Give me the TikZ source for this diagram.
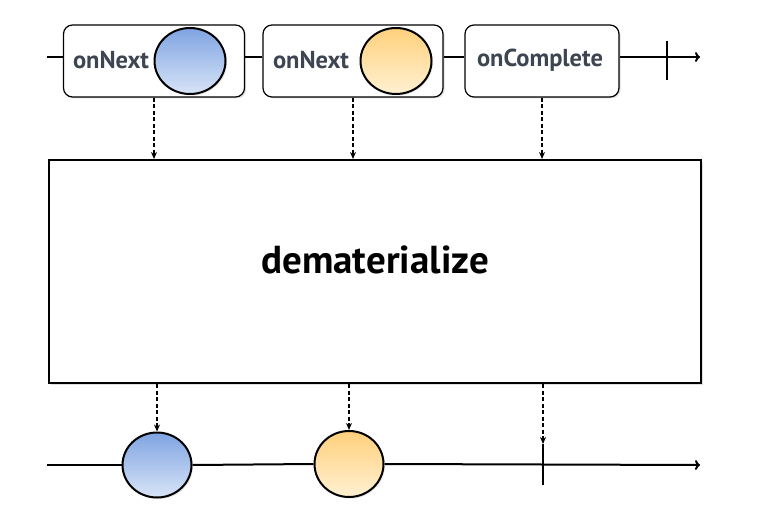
\documentclass[tikz,border=0pt]{standalone}
\usepackage{fontspec}
\setmainfont{PT Sans}
\usetikzlibrary{shapes.geometric,arrows.meta,shadows}
\definecolor{txt}{HTML}{3D4452}
\definecolor{bluetop}{HTML}{7FA4E2}
\definecolor{bluebot}{HTML}{D8E4F7}
\definecolor{orgtop}{HTML}{FFD07C}
\definecolor{orgbot}{HTML}{FFF1D2}
\tikzset{
  evbox/.style={draw=black, line width=1.2pt, rounded corners=9pt, fill=white,
    minimum height=72pt, inner sep=0pt,
    drop shadow={shadow xshift=1.5pt, shadow yshift=-1.5pt, opacity=0.25}},
  evtext/.style={text=txt, font=\bfseries\fontsize{24.5}{27}\selectfont, inner sep=0pt},
  marble/.style={draw=black, line width=2pt, ellipse, inner sep=0pt,
    drop shadow={shadow xshift=1.5pt, shadow yshift=-1.5pt, opacity=0.2}},
  bluem/.style={marble, top color=bluetop, bottom color=bluebot},
  orgm/.style={marble, top color=orgtop, bottom color=orgbot},
  tline/.style={line width=2pt, draw=black},
  dasharr/.style={dashed, dash pattern=on 4pt off 2.5pt, line width=1.5pt, -{Stealth[length=7pt,width=6pt]}},
  opbox/.style={draw=black, line width=2pt, fill=white, inner sep=0pt,
    drop shadow={shadow xshift=2pt, shadow yshift=-2pt, opacity=0.25}},
}
\begin{document}
\begin{tikzpicture}[x=1pt,y=-1pt]
\useasboundingbox (0,0) rectangle (762,518);
% top timeline
\coordinate (L0) at (47,57);
\coordinate (Lend) at (700,57);
\coordinate (tkA) at (667,41);
\coordinate (tkB) at (667,80);
\node[evbox, minimum width=181pt] (b1) at (154,61) {};
\node[evbox, minimum width=180pt] (b2) at (353,61) {};
\node[evbox, minimum width=154pt] (b3) at (542,61) {};
\node[evtext] (t1) at (111,60) {onNext};
\node[evtext] (t2) at (311,60) {onNext};
\node[evtext] (t3) at (540,60) {onComplete};
\node[bluem, minimum width=71pt, minimum height=66pt] (c1) at (190,61) {};
\node[orgm, minimum width=71pt, minimum height=66pt] (c2) at (396,61) {};
\draw[tline] (L0) -- (b1.west |- L0);
\draw[tline] (b1.east |- L0) -- (b2.west |- L0);
\draw[tline] (b2.east |- L0) -- (b3.west |- L0);
\draw[tline, -{To[length=5pt,width=10pt]}] (b3.east |- L0) -- (Lend);
\draw[tline] (tkA) -- (tkB);
% operator
\node[opbox, minimum width=652pt, minimum height=223pt] (m) at (375,271.5) {};
\node[font=\bfseries\fontsize{39}{42}\selectfont, text=black, inner sep=0pt] (lbl) at (375,260) {dematerialize};
\draw[dasharr] (b1.south) -- (b1.south |- m.north);
\draw[dasharr] (b2.south) -- (b2.south |- m.north);
\draw[dasharr] (b3.south) -- (b3.south |- m.north);
% bottom timeline
\coordinate (R0) at (47,465);
\coordinate (Rend) at (700,465);
\coordinate (tkC) at (543,444);
\coordinate (tkD) at (543,485);
\node[bluem, minimum width=69pt, minimum height=65pt] (d1) at (157,465) {};
\node[orgm, minimum width=69pt, minimum height=66pt] (d2) at (349,464) {};
\draw[tline] (R0) -- (d1.west);
\draw[tline] (d1.east) -- (d2.west);
\draw[tline, -{To[length=5pt,width=10pt]}] (d2.east) -- (Rend);
\draw[tline] (tkC) -- (tkD);
\draw[dasharr] (m.south -| d1.north) -- (d1.north);
\draw[dasharr] (m.south -| d2.north) -- (d2.north);
\draw[dasharr] (m.south -| tkC) -- (tkC);
\end{tikzpicture}
\end{document}
